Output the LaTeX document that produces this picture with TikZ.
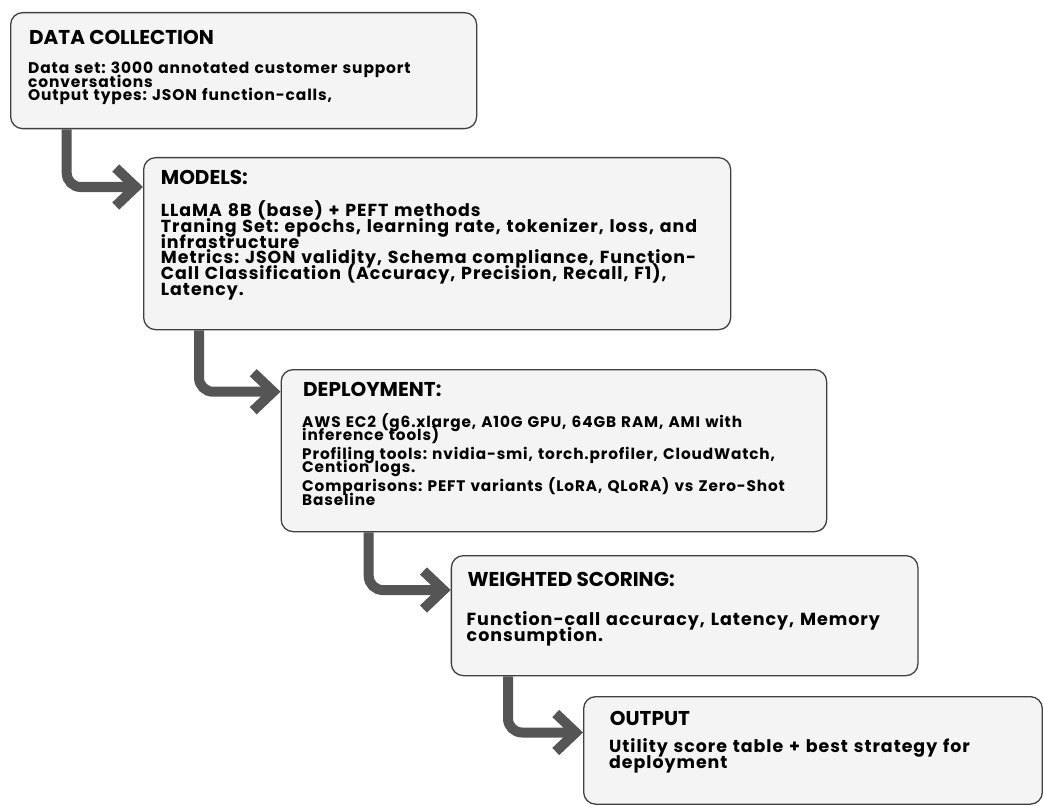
\documentclass[tikz,border=0pt]{standalone}
\usepackage{fontspec}
\setmainfont{Poppins}
\newfontfamily\stagefont{Poppins}[LetterSpace=5.6]
\usetikzlibrary{positioning,arrows.meta}
\definecolor{boxfill}{HTML}{F4F4F4}
\definecolor{boxedge}{HTML}{404040}
\definecolor{flowgray}{HTML}{555555}

\begin{document}
\frenchspacing
\begin{tikzpicture}[x=1pt,y=-1pt,
    stage/.style={draw=boxedge,fill=boxfill,line width=1.3pt,rounded corners=12pt,
      anchor=north west,inner sep=0pt},
    stagehead/.style={anchor=base west,inner sep=0pt,font=\fontsize{20}{22}\selectfont\bfseries},
    stagetext/.style 2 args={anchor=base west,inner sep=0pt,text width=700pt,align=left,
      font=\stagefont\fontsize{#1}{#2}\selectfont\bfseries,
      execute at begin node={\lineskiplimit=-20pt\relax}},
    flow/.style={draw=flowgray,line width=10pt,rounded corners=14pt,
      -{Straight Barb[length=20pt,width=38pt]}}]
  \useasboundingbox (0,0) rectangle (1043,805);

  \node[stage,minimum width=466pt,minimum height=116pt] (collect) at (10,12) {};
  \node[stagehead] (collecthead) at (29,44.3) {DATA COLLECTION};
  \node[stagetext={15.45}{13.5}] (collecttext) at (28,74) {Data set: 3000 annotated customer support\\
    conversations\\
    Output types: JSON function-calls,};

  \node[stage,minimum width=587pt,minimum height=172pt] (models) at (143,157) {};
  \node[stagehead] (modelshead) at (160.7,185) {MODELS:};
  \node[stagetext={17.4}{15.8}] (modelstext) at (160.7,216.5) {LLaMA 8B (base) + PEFT methods\\
    Traning Set: epochs, learning rate, tokenizer, loss, and\\
    infrastructure\\
    Metrics: JSON validity, Schema compliance, Function-\\
    Call Classification (Accuracy, Precision, Recall, F1),\\
    Latency.};

  \node[stage,minimum width=545.5pt,minimum height=162pt] (deploy) at (280.5,369) {};
  \node[stagehead] (deployhead) at (303,396.7) {DEPLOYMENT:};
  \node[stagetext={15.3}{13.2}] (deploytext) at (302,427.5) {AWS EC2 (g6.xlarge, A10G GPU, 64GB RAM, AMI with\\
    inference tools)\\[5.8pt]
    Profiling tools: nvidia-smi, torch.profiler, CloudWatch,\\
    Cention logs.\\[5.8pt]
    Comparisons: PEFT variants (LoRA, QLoRA) vs Zero-Shot\\
    Baseline};

  \node[stage,minimum width=466.6pt,minimum height=120pt] (scoring) at (450.7,555) {};
  \node[stagehead] (scoringhead) at (467.3,586.7) {WEIGHTED SCORING:};
  \node[stagetext={17.5}{16}] (scoringtext) at (466.5,625.5) {Function-call accuracy, Latency, Memory\\
    consumption.};

  \node[stage,minimum width=458.7pt,minimum height=107.5pt] (output) at (583,696) {};
  \node[stagehead] (outputhead) at (609.7,725.7) {OUTPUT};
  \node[stagetext={17.4}{16}] (outputtext) at (609,752.5) {Utility score table + best strategy for\\
    deployment};

  \draw[flow] ([xshift=56.7pt]collect.south west) |- ([yshift=-30pt]models.north west);
  \draw[flow] ([xshift=56pt]models.south west) |- ([yshift=-22.7pt]deploy.north west);
  \draw[flow] ([xshift=88.2pt]deploy.south west) |- ([yshift=-35pt]scoring.north west);
  \draw[flow] ([xshift=57.3pt]scoring.south west) |- ([yshift=-36.5pt]output.north west);
\end{tikzpicture}
\end{document}
